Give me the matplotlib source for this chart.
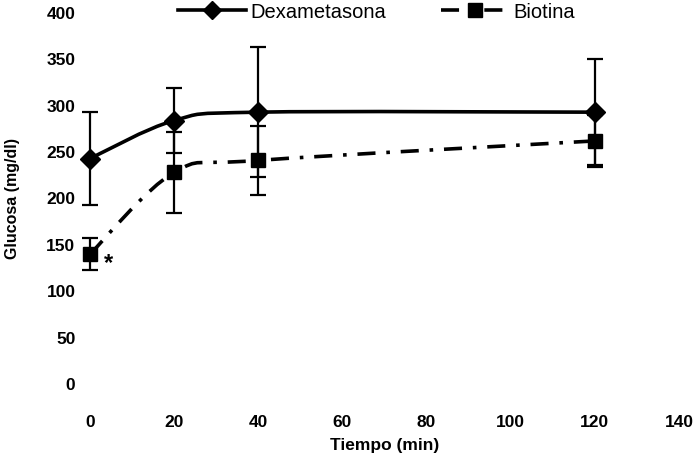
import matplotlib.pyplot as plt
import numpy as np
from matplotlib.path import Path
from matplotlib.patches import PathPatch
from matplotlib.lines import Line2D

plt.rcParams['font.family'] = ['Liberation Sans', 'DejaVu Sans']

tiempo = [0, 20, 40, 120]
dexa = [242, 283, 292, 292]
dexa_err = [50, 35, 70, 57]
biot = [139, 227, 240, 261]
biot_err = [17, 44, 37, 28]

x_ticks = [0, 20, 40, 60, 80, 100, 120, 140]
y_ticks = [0, 50, 100, 150, 200, 250, 300, 350, 400]


def smooth_path(xs, ys):
    # Excel-style smoothed line as cubic bezier segments
    pts = np.column_stack([xs, ys]).astype(float)
    verts = [pts[0]]
    codes = [Path.MOVETO]
    n = len(pts)
    for i in range(n - 1):
        p0 = pts[i - 1] if i > 0 else pts[i]
        p1 = pts[i]
        p2 = pts[i + 1]
        p3 = pts[i + 2] if i + 2 < n else pts[i + 1]
        c1 = p1 + (p2 - p0) / 6.0
        c2 = p2 - (p3 - p1) / 6.0
        verts += [c1, c2, p2]
        codes += [Path.CURVE4] * 3
    return Path(verts, codes)


fig = plt.figure(figsize=(6.97, 4.64), dpi=100)
ax = fig.add_axes([0.1291, 0.1724, 0.8451, 0.7996])

ax.add_patch(PathPatch(smooth_path(tiempo, dexa), fill=False, lw=2.6,
                       edgecolor='black', capstyle='butt', clip_on=False))
ax.add_patch(PathPatch(smooth_path(tiempo, biot), fill=False, lw=2.6,
                       edgecolor='black', linestyle=(0, (5, 3, 1, 3)),
                       clip_on=False))

ax.errorbar(tiempo, dexa, yerr=dexa_err, fmt='D', color='black', ms=10,
            elinewidth=1.6, capsize=6, capthick=1.6, clip_on=False, zorder=4)
ax.errorbar(tiempo, biot, yerr=biot_err, fmt='s', color='black', ms=10,
            elinewidth=1.6, capsize=6, capthick=1.6, clip_on=False, zorder=4)

ax.text(4.3, 130, '*', fontsize=17, fontweight='bold', ha='center',
        va='center')

ax.set_xlim(0, 140)
ax.set_ylim(0, 400)
ax.set_xticks(x_ticks)
ax.set_yticks(y_ticks)
ax.tick_params(length=0, labelsize=12.5)
ax.tick_params(axis='y', pad=10.5)
ax.tick_params(axis='x', pad=22)
for lab in ax.get_xticklabels() + ax.get_yticklabels():
    lab.set_fontweight('bold')
for s in ax.spines.values():
    s.set_visible(False)

ax.set_xlabel('Tiempo (min)', fontsize=12.5, fontweight='bold', labelpad=6)
ax.set_ylabel('Glucosa (mg/dl)', fontsize=11.5, fontweight='bold', labelpad=19)

handles = [
    Line2D([], [], color='black', lw=2.6, marker='D', ms=9),
    Line2D([], [], color='black', lw=2.6, marker='s', ms=10,
           linestyle=(0, (5, 3, 1, 3))),
]
fig.legend(handles, ['Dexametasona', 'Biotina'], loc='center',
           bbox_to_anchor=(0.54, 0.973), ncol=2, frameon=False,
           fontsize=14.5, handlelength=3.4, handletextpad=0.2,
           columnspacing=2.7, borderaxespad=0)

fig.savefig('out.png', dpi=100)
